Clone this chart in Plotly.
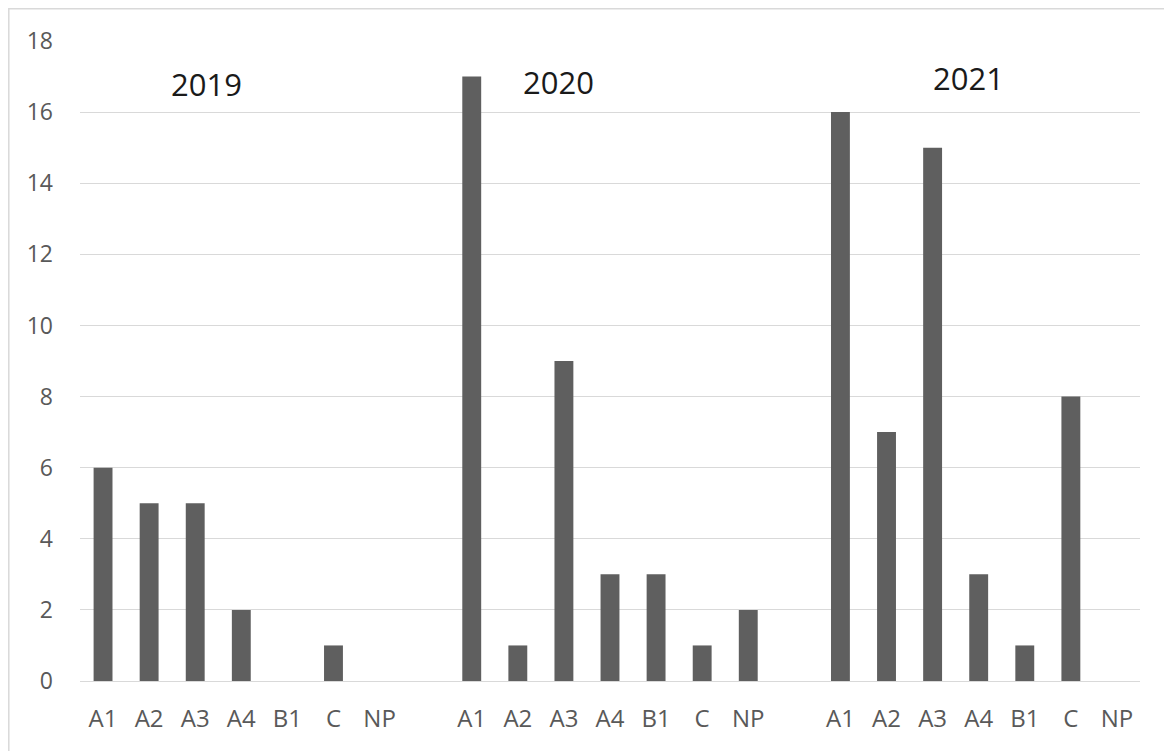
import plotly.graph_objects as go

categories = ["A1", "A2", "A3", "A4", "B1", "C", "NP"]
years = ["2019", "2020", "2021"]
values_2019 = [6, 5, 5, 2, 0, 1, 0]
values_2020 = [17, 1, 9, 3, 3, 1, 2]
values_2021 = [16, 7, 15, 3, 1, 8, 0]
series = [values_2019, values_2020, values_2021]
y_ticks = [0, 2, 4, 6, 8, 10, 12, 14, 16, 18]

# page body has an 8px margin, so the figure is sized/offset to compensate
W, H = 1164, 743
ML, MR, MT, MB = 72, 32, 33, 70
PW, PH = W - ML - MR, H - MT - MB

slot = len(categories) + 1
xs, ys, tickvals, ticktext = [], [], [], []
for g, vals in enumerate(series):
    for i, (c, v) in enumerate(zip(categories, vals)):
        x = g * slot + i
        xs.append(x)
        ys.append(v)
        tickvals.append(x)
        ticktext.append(c)

fig = go.Figure(go.Bar(x=xs, y=ys, width=0.41, marker=dict(color="#5f5f5f", line=dict(width=0))))

# Year labels (positions relative to each group)
year_pos = [(2.24, 16.8), (9.89, 16.85), (18.78, 16.96)]
for yr, (xp, yp) in zip(years, year_pos):
    fig.add_annotation(x=xp, y=yp, text=yr, showarrow=False, xref="x", yref="y",
                       font=dict(family="Open Sans", size=31, color="#1a1a1a"))

def px_x(p):
    return (p - ML) / PW

def px_y(p):
    return (H - MB - p) / PH

# chart border (cropped at right and bottom)
fig.add_shape(type="rect", xref="paper", yref="paper",
              x0=px_x(0.8), x1=px_x(W + 10), y0=px_y(H + 10), y1=px_y(0.8),
              line=dict(color="#d9d9d9", width=1.5), layer="below")

fig.update_layout(
    width=W, height=H,
    margin=dict(l=ML, r=MR, t=MT, b=MB),
    paper_bgcolor="white", plot_bgcolor="white",
    showlegend=False,
)
fig.update_xaxes(range=[-0.5, 3 * slot - 1 - 0.5], tickmode="array", tickvals=tickvals, ticktext=ticktext,
                 showgrid=False, zeroline=False, showline=False, ticks="",
                 ticklabelstandoff=21,
                 tickfont=dict(family="Open Sans", size=24, color="#595959"))
fig.update_yaxes(range=[0, 18], tickmode="array", tickvals=y_ticks,
                 showgrid=True, gridcolor="#d9d9d9", gridwidth=1.3,
                 zeroline=True, zerolinecolor="#d9d9d9", zerolinewidth=1.3,
                 showline=False, ticks="", ticklabelstandoff=26,
                 tickfont=dict(family="Open Sans", size=23, color="#595959"))

fig.write_html("out.html")
